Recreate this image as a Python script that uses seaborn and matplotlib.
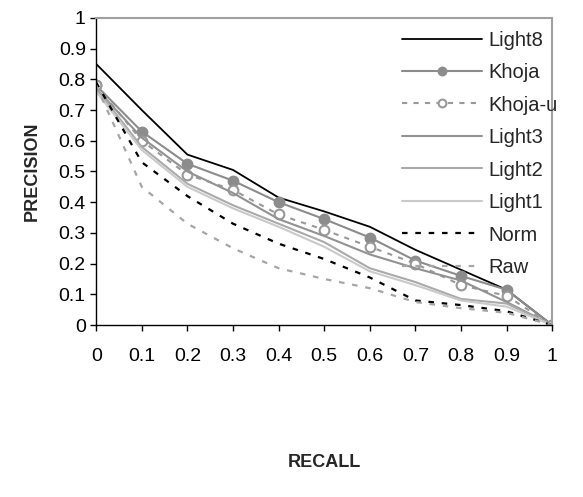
import matplotlib
matplotlib.use("Agg")
import matplotlib.pyplot as plt
import seaborn as sns
import pandas as pd

# recall points
recall = [0, 0.1, 0.2, 0.3, 0.4, 0.5, 0.6, 0.7, 0.8, 0.9, 1.0]
tick_labels = ["0", "0.1", "0.2", "0.3", "0.4", "0.5", "0.6", "0.7", "0.8", "0.9", "1"]

# precision per method
light8 = [0.85, 0.70, 0.555, 0.505, 0.415, 0.37, 0.32, 0.245, 0.18, 0.115, 0.0]
khoja = [0.78, 0.63, 0.525, 0.47, 0.40, 0.345, 0.285, 0.21, 0.16, 0.115, 0.0]
khoja_u = [0.78, 0.60, 0.49, 0.44, 0.36, 0.31, 0.255, 0.20, 0.13, 0.095, 0.0]
light3 = [0.77, 0.61, 0.50, 0.43, 0.345, 0.29, 0.23, 0.185, 0.145, 0.075, 0.0]
light2 = [0.77, 0.58, 0.46, 0.39, 0.33, 0.27, 0.185, 0.14, 0.085, 0.07, 0.0]
light1 = [0.76, 0.57, 0.45, 0.38, 0.32, 0.255, 0.175, 0.13, 0.08, 0.06, 0.0]
norm = [0.79, 0.53, 0.42, 0.33, 0.265, 0.215, 0.155, 0.08, 0.065, 0.045, 0.0]
raw = [0.78, 0.45, 0.33, 0.25, 0.185, 0.15, 0.12, 0.075, 0.055, 0.04, 0.0]

sns.set_style("white")
plt.rcParams['font.family'] = ['Liberation Sans', 'DejaVu Sans']

fig = plt.figure(figsize=(5.83, 4.97), dpi=100)
ax = fig.add_axes([0.165, 0.346, 0.782, 0.618])

# (name, values, color, linestyle, linewidth, marker, face)
series = [
    ("Light8", light8, "black", "-", 1.3, None, None),
    ("Khoja", khoja, "#8c8c8c", "-", 1.5, "o", "#8c8c8c"),
    ("Khoja-u", khoja_u, "#999999", (0, (2.5, 3)), 1.5, "o", "white"),
    ("Light3", light3, "#929292", "-", 1.5, None, None),
    ("Light2", light2, "#aaaaaa", "-", 1.5, None, None),
    ("Light1", light1, "#cacaca", "-", 1.5, None, None),
    ("Norm", norm, "black", (0, (2.5, 3.5)), 1.6, None, None),
    ("Raw", raw, "#a6a6a6", (0, (2.5, 3.5)), 1.6, None, None),
]

for name, vals, col, ls, lw, mk, face in series:
    df = pd.DataFrame({"recall": recall, "precision": vals})
    kw = {}
    if mk:
        kw = dict(marker=mk, markersize=7, markerfacecolor=face,
                  markeredgecolor=col, markeredgewidth=1.5)
    sns.lineplot(data=df, x="recall", y="precision", ax=ax, color=col,
                 linestyle=ls, linewidth=lw, label=name, **kw)

ax.set_xlim(0, 1)
ax.set_ylim(0, 1)
ax.set_xticks(recall)
ax.set_xticklabels(tick_labels)
ax.set_yticks(recall)
ax.set_yticklabels(tick_labels)
ax.tick_params(axis="both", direction="out", length=4.5, width=1, labelsize=14,
               bottom=True, left=True, colors="black", pad=3)
ax.tick_params(axis="x", pad=12)

for s in ["left", "bottom"]:
    ax.spines[s].set_color("black")
    ax.spines[s].set_linewidth(1)
for s in ["top", "right"]:
    ax.spines[s].set_color("#a0a0a0")
    ax.spines[s].set_linewidth(1.5)

ax.set_xlabel("RECALL", fontsize=13, fontweight="bold", labelpad=64)
ax.set_ylabel("PRECISION", fontsize=13, fontweight="bold", labelpad=13)

leg = ax.legend(loc="upper right", bbox_to_anchor=(1.03, 0.985), frameon=False,
                fontsize=14.5, handlelength=4.0, handletextpad=0.3,
                labelspacing=0.67, borderaxespad=0.1, borderpad=0.3,
                markerscale=0.8)

fig.savefig("out.png", dpi=100)
